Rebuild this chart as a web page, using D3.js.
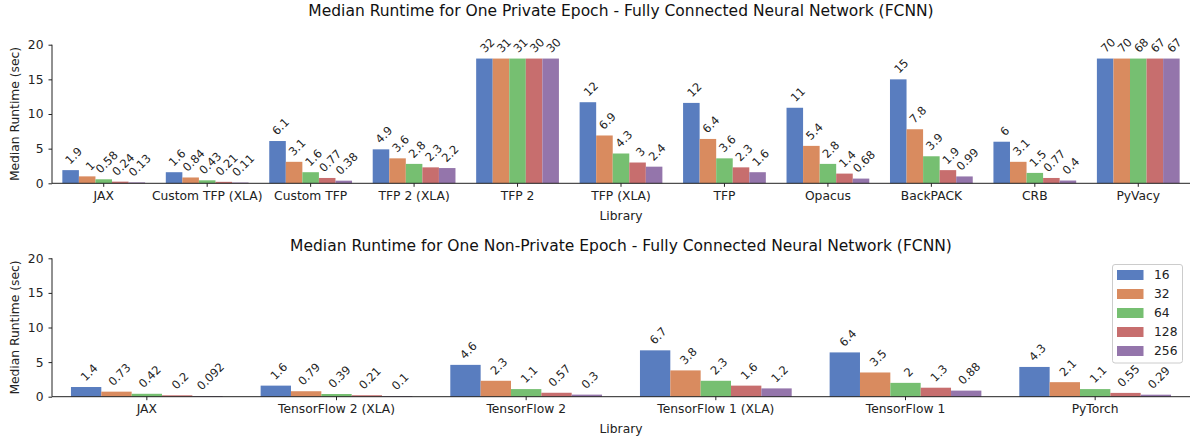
<!DOCTYPE html>
<html><head><meta charset="utf-8">
<script src="https://cdn.jsdelivr.net/npm/d3@7"></script>
<style>
html,body{margin:0;padding:0;background:#fff;}
svg{display:block;font-family:"DejaVu Sans",sans-serif;}
</style></head>
<body><svg id="c" width="1191" height="440"></svg>
<script>
// ---------- data ----------
const batchSizes = ["16","32","64","128","256"];
const privateLibs = ["JAX","Custom TFP (XLA)","Custom TFP","TFP 2 (XLA)","TFP 2","TFP (XLA)","TFP","Opacus","BackPACK","CRB","PyVacy"];
const private16  = [1.9, 1.6, 6.1, 4.9, 32, 11.7, 11.6, 10.9, 15.0, 6.0, 70];
const private32  = [1.0, 0.84, 3.1, 3.6, 31, 6.9, 6.4, 5.4, 7.8, 3.1, 70];
const private64  = [0.58, 0.43, 1.6, 2.8, 31, 4.3, 3.6, 2.8, 3.9, 1.5, 68];
const private128 = [0.24, 0.21, 0.77, 2.3, 30, 3.0, 2.3, 1.4, 1.9, 0.77, 67];
const private256 = [0.13, 0.11, 0.38, 2.2, 30, 2.4, 1.6, 0.68, 0.99, 0.4, 67];
const nonPrivateLibs = ["JAX","TensorFlow 2 (XLA)","TensorFlow 2","TensorFlow 1 (XLA)","TensorFlow 1","PyTorch"];
const nonPrivate16  = [1.4, 1.6, 4.6, 6.7, 6.4, 4.3];
const nonPrivate32  = [0.73, 0.79, 2.3, 3.8, 3.5, 2.1];
const nonPrivate64  = [0.42, 0.39, 1.1, 2.3, 2.0, 1.1];
const nonPrivate128 = [0.2, 0.21, 0.57, 1.6, 1.3, 0.55];
const nonPrivate256 = [0.092, 0.1, 0.3, 1.2, 0.88, 0.29];
const yTicks = [0, 5, 10, 15, 20];
const yMax = 20;
const displayCap = 18;   // bars taller than this are drawn cut off
const colors = ["#597dbf","#d98b5f","#76bf71","#c76e6e","#9475ab"];

const svg = d3.select("#c");
const fmt = d3.format(".2~g");
const FS = 12.3, VFS = 11.5, TFS = 15.5;

function panel(opt){
  const {libs, series, title, yTop, yBottom, titleY, xlabelY, legend} = opt;
  const x0 = d3.scaleBand().domain(libs).range([52, 1190]).paddingInner(0).paddingOuter(0);
  const x1 = d3.scaleBand().domain(batchSizes).range([0.1*x0.bandwidth(), 0.9*x0.bandwidth()]);
  const y = d3.scaleLinear().domain([0, yMax]).range([yBottom, yTop]);
  const color = d3.scaleOrdinal().domain(batchSizes).range(colors);
  const g = svg.append("g");

  const rows = libs.map((lib, i) => ({lib, vals: batchSizes.map((b, j) => ({b, v: series[j][i]}))}));
  const grp = g.selectAll("g.cat").data(rows).join("g").attr("transform", d => `translate(${x0(d.lib)},0)`);
  grp.selectAll("rect").data(d => d.vals).join("rect")
    .attr("x", d => x1(d.b)).attr("width", x1.bandwidth())
    .attr("y", d => y(Math.min(d.v, displayCap)))
    .attr("height", d => y(0) - y(Math.min(d.v, displayCap)))
    .attr("fill", d => color(d.b));

  // value labels rotated 45°
  grp.selectAll("text.val").data(d => d.vals).join("text")
    .attr("class","val")
    .attr("font-size", VFS).attr("fill","#222")
    .attr("text-anchor","middle").attr("dominant-baseline","central")
    .text(d => fmt(d.v))
    .each(function(d){
      const L = this.getComputedTextLength();
      const h = (L + VFS) * Math.SQRT1_2;
      const cx = x1(d.b) + x1.bandwidth()/2 + 3;
      const cy = y(Math.min(d.v, displayCap)) - 4 - h/2;
      d3.select(this).attr("transform", `translate(${cx},${cy}) rotate(-45)`);
    });

  // axes
  const ya = g.append("g").attr("transform","translate(52,0)")
    .call(d3.axisLeft(y).tickValues(yTicks).tickSize(3.5).tickPadding(5).tickFormat(d3.format("d")));
  const xa = g.append("g").attr("transform",`translate(0,${yBottom})`)
    .call(d3.axisBottom(x0).tickSize(3.5).tickPadding(4).tickSizeOuter(0));
  [ya, xa].forEach(a => {
    a.selectAll("text").attr("font-size", FS).attr("font-family","DejaVu Sans").attr("fill","#222");
    a.selectAll("line").attr("stroke","#222");
    a.select(".domain").attr("stroke","#222");
  });
  ya.select(".domain").attr("d", `M0,${yBottom}V${yTop}`);
  xa.select(".domain").attr("d", `M52,0H1190`);

  g.append("text").attr("x", 621).attr("y", titleY).attr("text-anchor","middle")
    .attr("font-size", TFS).attr("fill","#111").text(title);
  g.append("text").attr("x", 621).attr("y", xlabelY).attr("text-anchor","middle")
    .attr("font-size", FS).attr("fill","#222").text("Library");
  g.append("text").attr("transform",`translate(19,${(yTop+yBottom)/2}) rotate(-90)`)
    .attr("text-anchor","middle").attr("font-size", FS).attr("fill","#222").text("Median Runtime (sec)");

  if (legend){
    const lg = g.append("g");
    lg.append("rect").attr("x",1112.5).attr("y",264.5).attr("width",70).attr("height",98.5)
      .attr("rx",2.5).attr("fill","#fff").attr("fill-opacity",0.8).attr("stroke","#cccccc");
    const it = lg.selectAll("g").data(batchSizes).join("g")
      .attr("transform",(d,i)=>`translate(1117,${275 + i*19})`);
    it.append("rect").attr("x",0).attr("y",-5).attr("width",26.5).attr("height",10).attr("fill",d=>color(d));
    it.append("text").attr("x",37).attr("y",0).attr("dominant-baseline","central")
      .attr("font-size",FS).attr("fill","#222").text(d=>d);
  }
}

panel({libs: privateLibs, series:[private16,private32,private64,private128,private256],
  title:"Median Runtime for One Private Epoch - Fully Connected Neural Network (FCNN)",
  yTop:44.7, yBottom:183.3, titleY:16, xlabelY:219.5, legend:false});
panel({libs: nonPrivateLibs, series:[nonPrivate16,nonPrivate32,nonPrivate64,nonPrivate128,nonPrivate256],
  title:"Median Runtime for One Non-Private Epoch - Fully Connected Neural Network (FCNN)",
  yTop:258.3, yBottom:396.7, titleY:250.7, xlabelY:433, legend:true});
</script></body></html>
